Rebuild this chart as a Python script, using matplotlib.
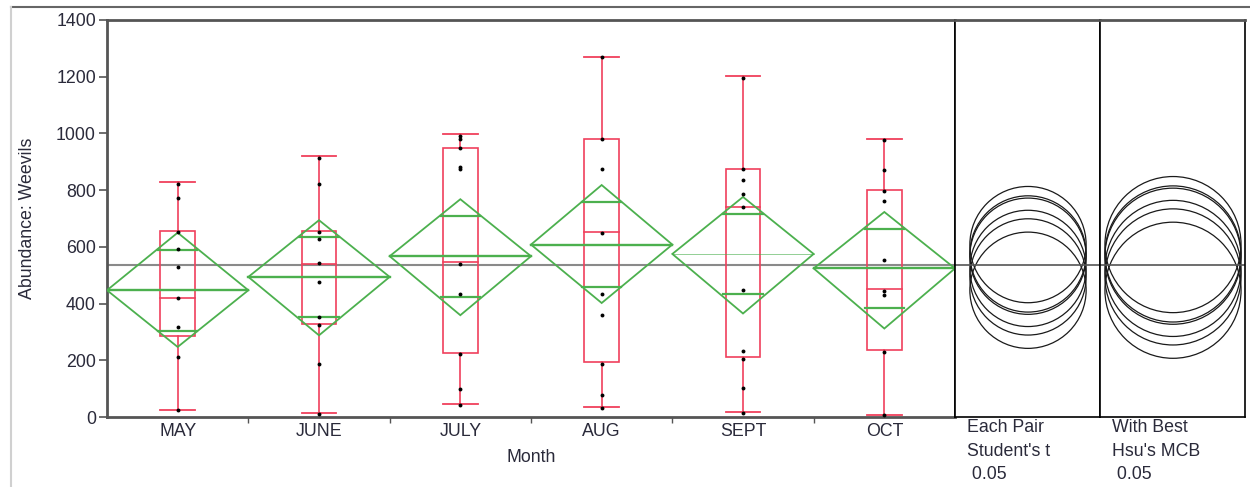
import matplotlib
matplotlib.use("Agg")
import matplotlib.pyplot as plt
import numpy as np
from matplotlib.patches import Ellipse, Polygon, Rectangle
from matplotlib.lines import Line2D

plt.rcParams['font.family'] = ['Liberation Sans', 'DejaVu Sans']

# data
months = ['MAY', 'JUNE', 'JULY', 'AUG', 'SEPT', 'OCT']
whisker_lo = [26, 14, 45, 35, 18, 8]
q1 = [286, 327, 226, 194, 210, 235]
median = [421, 541, 545, 653, 741, 451]
q3 = [655, 655, 949, 982, 874, 800]
whisker_hi = [827, 920, 998, 1270, 1201, 982]
means = [447, 494, 567, 608, 575, 524]
ci_lo = [247, 288, 359, 402, 365, 312]
ci_hi = [650, 694, 768, 818, 776, 723]
points = [
    [820, 773, 651, 594, 529, 418, 318, 212, 24],
    [915, 820, 651, 626, 543, 476, 353, 324, 186, 12],
    [990, 980, 947, 880, 875, 541, 435, 221, 97, 41],
    [1268, 979, 876, 649, 433, 359, 188, 77, 32],
    [1197, 876, 835, 788, 739, 449, 233, 204, 102, 15],
    [976, 870, 797, 761, 555, 445, 429, 229, 6],
]
grand_mean = 535
radius_t = 205    # Student's t comparison circle radius
radius_hsu = 240  # Hsu's MCB comparison circle radius

RED = '#f0405c'
GREEN = '#4cb04e'
GRAY = '#8a8a8a'
TXT = '#2a2a3a'
FS = 12.8

W, H = 1250, 487
fig = plt.figure(figsize=(W / 100, H / 100), dpi=100)

def frac(x0, y_top, w, h):
    return [x0 / W, (H - y_top - h) / H, w / W, h / H]

top, height = 20, 397
ax = fig.add_axes(frac(107, top, 848, height))
ax2 = fig.add_axes(frac(955, top, 145, height), sharey=ax)
ax3 = fig.add_axes(frac(1100, top, 145, height), sharey=ax)

ax.set_xlim(-0.5, len(months) - 0.5)
ax.set_ylim(0, 1400)

box_hw = 0.123
k = 1 / np.sqrt(2)
for i in range(len(months)):
    # box plot
    ax.add_patch(Rectangle((i - box_hw, q1[i]), 2 * box_hw, q3[i] - q1[i],
                           fill=False, ec=RED, lw=1.2, zorder=3))
    ax.plot([i - box_hw, i + box_hw], [median[i]] * 2, color=RED, lw=1.2, zorder=3)
    ax.plot([i, i], [q3[i], whisker_hi[i]], color=RED, lw=1.2, zorder=3)
    ax.plot([i, i], [whisker_lo[i], q1[i]], color=RED, lw=1.2, zorder=3)
    for yv in (whisker_lo[i], whisker_hi[i]):
        ax.plot([i - box_hw, i + box_hw], [yv, yv], color=RED, lw=1.3, zorder=3)

    # means diamond
    ax.add_patch(Polygon([(i - 0.5, means[i]), (i, ci_hi[i]), (i + 0.5, means[i]),
                          (i, ci_lo[i])], closed=True, fill=False, ec=GREEN,
                         lw=1.3, zorder=4))
    lw_mean = 0.6 if months[i] == 'SEPT' else 1.7
    ax.plot([i - 0.5, i + 0.5], [means[i]] * 2, color=GREEN, lw=lw_mean,
            alpha=0.7 if lw_mean < 1 else 1, zorder=4)
    half = ci_hi[i] - means[i]
    ow = 0.5 * (1 - k) * 0.95
    for yv in (means[i] + half * k, means[i] - half * k):
        ax.plot([i - ow, i + ow], [yv, yv], color=GREEN, lw=1.6, zorder=4)

    ax.plot([i] * len(points[i]), points[i], 'o', color='black', ms=2.8,
            mec='none', zorder=5)

ax.axhline(grand_mean, color=GRAY, lw=1.5, zorder=2)

ax.set_yticks(np.arange(0, 1401, 200))
ax.set_xticks(np.arange(0.5, len(months) - 1, 1))
ax.set_xticklabels([])
ax.set_xticks(np.arange(len(months)), minor=True)
ax.set_xticklabels(months, minor=True)
ax.tick_params(axis='x', which='major', length=4, width=1, color='#555555', direction='out')
ax.tick_params(axis='x', which='minor', length=0, pad=4, labelsize=FS, labelcolor=TXT)
ax.tick_params(axis='y', length=6, width=1.2, color='#555555', labelsize=FS, labelcolor=TXT, pad=2)

for s in ('left', 'bottom', 'top'):
    ax.spines[s].set_color('#555555')
    ax.spines[s].set_linewidth(2)
ax.spines['right'].set_color('black')
ax.spines['right'].set_linewidth(1.2)

# comparison circles panels
px_per_unit = height / 1400
for a, r in ((ax2, radius_t), (ax3, radius_hsu)):
    a.set_xlim(0, 145)
    for m in means:
        a.add_patch(Ellipse((73, m), 2 * r * px_per_unit, 2 * r, fill=False,
                            ec='#1a1a1a', lw=0.9))
    a.axhline(grand_mean, color='#555555', lw=1.2)
    a.set_xticks([])
    a.tick_params(axis='y', left=False, labelleft=False)
    for s in a.spines.values():
        s.set_color('black')
        s.set_linewidth(1.2)
    a.spines['top'].set_color('#555555')
    a.spines['top'].set_linewidth(2)

fig.text(531 / W, 1 - 458 / H, 'Month', ha='center', va='center', fontsize=FS, color=TXT)
fig.text(28 / W, 1 - 218 / H, 'Abundance: Weevils', ha='center', va='center',
         rotation=90, fontsize=FS, color=TXT)
fig.text(967 / W, 1 - 419 / H, "Each Pair\nStudent's t\n 0.05", ha='left', va='top',
         fontsize=FS, color=TXT, linespacing=1.5)
fig.text(1112 / W, 1 - 419 / H, "With Best\nHsu's MCB\n 0.05", ha='left', va='top',
         fontsize=FS, color=TXT, linespacing=1.5)

# outer frame lines
fig.add_artist(Line2D([11 / W, 1], [1 - 7 / H] * 2, color='#666666', lw=1.5))
fig.add_artist(Line2D([11 / W] * 2, [0, 1 - 7 / H], color='#d0d0d0', lw=1.5))

fig.savefig('out.png', dpi=100)
